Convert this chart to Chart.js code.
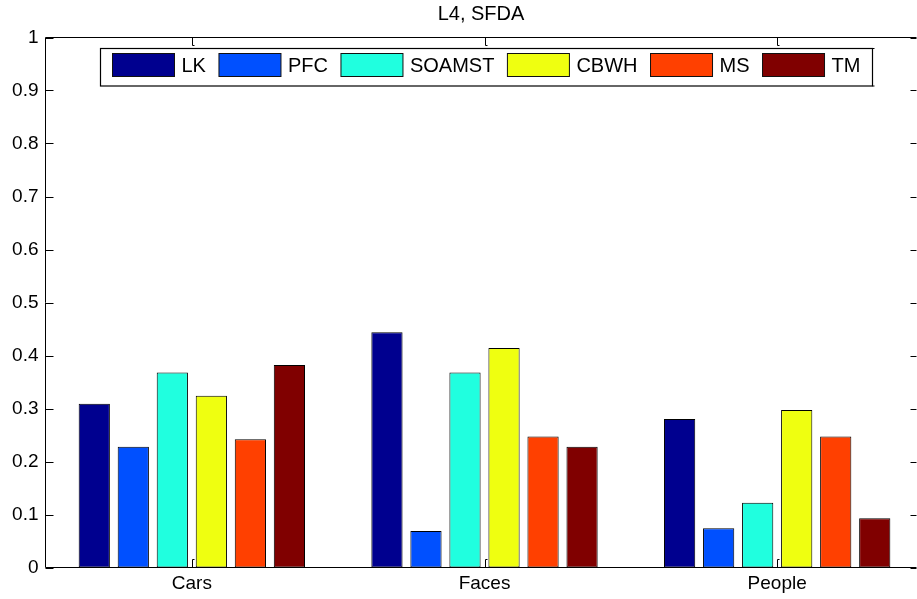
<!DOCTYPE html>
<html>
<head>
<meta charset="utf-8">
<title>L4, SFDA</title>
<script src="https://cdn.jsdelivr.net/npm/chart.js@4.4.1/dist/chart.umd.min.js"></script>
<style>
  html, body { margin: 0; padding: 0; background: #fff; }
  #wrap { width: 917px; height: 599px; }
</style>
</head>
<body>
<div id="wrap"><canvas id="c" width="917" height="599"></canvas></div>
<script>
// Tracking scores per method on each test sequence
const chartTitle = 'L4, SFDA';
const categories = ['Cars', 'Faces', 'People'];
const methods = ['LK', 'PFC', 'SOAMST', 'CBWH', 'MS', 'TM'];
const methodColors = ['#00008F', '#0050FF', '#20FFDF', '#EFFF10', '#FF4000', '#800000'];

const lkScores     = [0.309, 0.444, 0.280];
const pfcScores    = [0.228, 0.069, 0.074];
const soamstScores = [0.368, 0.368, 0.122];
const cbwhScores   = [0.324, 0.414, 0.297];
const msScores     = [0.242, 0.247, 0.247];
const tmScores     = [0.382, 0.228, 0.093];

const yTickValues = [0, 0.1, 0.2, 0.3, 0.4, 0.5, 0.6, 0.7, 0.8, 0.9, 1];
const yTickLabels = ['0', '0.1', '0.2', '0.3', '0.4', '0.5', '0.6', '0.7', '0.8', '0.9', '1'];

const seriesValues = [lkScores, pfcScores, soamstScores, cbwhScores, msScores, tmScores];

// categories sit at x = 1, 2, 3 on a linear axis
const datasets = methods.map((name, k) => ({
  label: name,
  data: seriesValues[k].map((v, i) => ({ x: i + 1, y: v })),
  backgroundColor: methodColors[k],
  borderColor: '#000',
  borderWidth: 1,
  borderSkipped: false,
  categoryPercentage: 0.8,
  barPercentage: 0.8
}));

const FONT = '"Liberation Sans", Arial, Helvetica, sans-serif';

// axes box, inward tick marks, title
const framePlugin = {
  id: 'frame',
  afterDraw(chart) {
    const { ctx, chartArea: a, scales: { x, y } } = chart;
    ctx.save();
    ctx.strokeStyle = '#000';
    ctx.lineWidth = 1;
    ctx.beginPath();
    ctx.moveTo(a.left, a.top); ctx.lineTo(a.right, a.top);
    ctx.moveTo(a.left, a.top); ctx.lineTo(a.left, a.bottom);
    ctx.moveTo(a.left, a.bottom); ctx.lineTo(a.right, a.bottom);
    yTickValues.forEach(v => {
      const py = Math.round(y.getPixelForValue(v)) + 0.5;
      ctx.moveTo(a.left, py); ctx.lineTo(a.left + 8, py);
      ctx.moveTo(a.right - 6, py); ctx.lineTo(a.right, py);
    });
    categories.forEach((c, i) => {
      const px = Math.round(x.getPixelForValue(i + 1)) + 0.5;
      ctx.moveTo(px, a.bottom); ctx.lineTo(px, a.bottom - 8); ctx.lineTo(px + 2, a.bottom - 8);
      ctx.moveTo(px, a.top); ctx.lineTo(px, a.top + 8); ctx.lineTo(px + 2, a.top + 8);
    });
    ctx.stroke();

    ctx.fillStyle = '#000';
    ctx.font = '20px ' + FONT;
    ctx.textAlign = 'center';
    ctx.textBaseline = 'middle';
    ctx.fillText(chartTitle, (a.left + a.right) / 2, 14);
    ctx.restore();
  }
};

// boxed single-row legend inside the plot
const boxLegendPlugin = {
  id: 'boxLegend',
  afterDraw(chart) {
    const { ctx } = chart;
    const left = 100.5, top = 48.5, right = 872.5, bottom = 86;
    const swW = 62, swH = 23, swTop = 53.5, gapText = 7, gapItem = 13;
    ctx.save();
    ctx.fillStyle = '#fff';
    ctx.fillRect(left, top, right - left, bottom - top);
    ctx.strokeStyle = '#000';
    ctx.lineWidth = 1.2;
    ctx.strokeRect(left, top, right - left, bottom - top);
    // small end hooks on the right edge
    ctx.beginPath();
    ctx.moveTo(right, top); ctx.lineTo(right + 2, top);
    ctx.moveTo(right, bottom); ctx.lineTo(right + 2, bottom);
    ctx.stroke();
    ctx.lineWidth = 1;
    ctx.font = '20px ' + FONT;
    ctx.textBaseline = 'middle';
    ctx.textAlign = 'left';
    let xPos = 112.5;
    chart.data.datasets.forEach(ds => {
      ctx.fillStyle = ds.backgroundColor;
      ctx.fillRect(xPos, swTop, swW, swH);
      ctx.strokeStyle = '#111';
      ctx.strokeRect(xPos, swTop, swW, swH);
      ctx.fillStyle = '#000';
      const tx = xPos + swW + gapText;
      ctx.fillText(ds.label, tx, swTop + swH / 2 + 1);
      xPos = tx + ctx.measureText(ds.label).width + gapItem;
    });
    ctx.restore();
  }
};

new Chart(document.getElementById('c'), {
  type: 'bar',
  data: { datasets },
  options: {
    responsive: false,
    animation: false,
    layout: { padding: { top: 37.5, right: 0.5, left: 0, bottom: 0 } },
    plugins: {
      legend: { display: false },
      title: { display: false },
      tooltip: { enabled: false }
    },
    scales: {
      x: {
        type: 'linear',
        min: 0.5,
        max: 3.476,
        offset: false,
        grid: { display: false, drawTicks: false },
        border: { display: false },
        afterBuildTicks: s => { s.ticks = categories.map((c, i) => ({ value: i + 1 })); },
        afterFit: s => { s.height = 31.5; },
        ticks: {
          color: '#000',
          font: { family: FONT, size: 19 },
          padding: 5,
          maxRotation: 0,
          autoSkip: false,
          callback: (v, i) => categories[i]
        }
      },
      y: {
        min: 0,
        max: 1,
        grid: { display: false, drawTicks: false },
        border: { display: false },
        afterBuildTicks: s => { s.ticks = yTickValues.map(v => ({ value: v })); },
        afterFit: s => { s.width = 45.5; },
        ticks: {
          color: '#000',
          font: { family: FONT, size: 19 },
          padding: 7,
          autoSkip: false,
          callback: (v, i) => yTickLabels[i]
        }
      }
    }
  },
  plugins: [framePlugin, boxLegendPlugin]
});
</script>
</body>
</html>
